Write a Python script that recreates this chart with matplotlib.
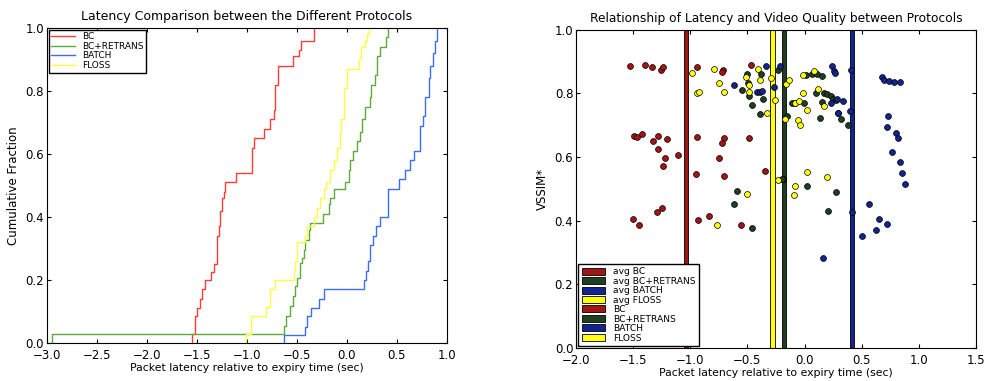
import matplotlib
matplotlib.use("Agg")
import matplotlib.pyplot as plt
from matplotlib.patches import Patch
import numpy as np

# ---- left panel: CDF step coordinates (x where the step rises, level after the rise)
bc_x = [-1.55, -1.517, -1.50, -1.47, -1.45, -1.42, -1.36, -1.33, -1.30, -1.283, -1.27, -1.25,
        -1.23, -1.22, -1.107, -0.95, -0.927, -0.833, -0.767, -0.733, -0.717, -0.693, -0.54,
        -0.483, -0.457, -0.333]
bc_y = [0.03, 0.085, 0.11, 0.14, 0.17, 0.20, 0.225, 0.25, 0.34, 0.37, 0.42, 0.46,
        0.48, 0.51, 0.54, 0.62, 0.65, 0.68, 0.71, 0.74, 0.82, 0.88, 0.91,
        0.93, 0.96, 1.0]

retrans_x = [-2.95, -0.633, -0.607, -0.567, -0.54, -0.517, -0.5, -0.467, -0.45, -0.433, -0.417,
             -0.383, -0.367, -0.24, -0.183, -0.167, -0.133, -0.017, 0.017, 0.033, 0.06, 0.10,
             0.133, 0.15, 0.177, 0.227, 0.243, 0.283, 0.30, 0.333, 0.393, 0.407]
retrans_y = [0.028, 0.053, 0.085, 0.116, 0.148, 0.18, 0.206, 0.254, 0.27, 0.296, 0.328,
             0.36, 0.38, 0.41, 0.44, 0.46, 0.49, 0.51, 0.55, 0.58, 0.61, 0.64,
             0.67, 0.71, 0.75, 0.78, 0.82, 0.85, 0.91, 0.94, 0.97, 1.0]

floss_x = [-1.01, -0.96, -0.81, -0.773, -0.723, -0.533, -0.517, -0.50, -0.417, -0.40, -0.333,
           -0.30, -0.267, -0.233, -0.207, -0.167, -0.133, -0.10, -0.073, -0.057, -0.033, 0.0,
           0.117, 0.143, 0.177, 0.20, 0.217]
floss_y = [0.03, 0.085, 0.115, 0.17, 0.20, 0.23, 0.26, 0.32, 0.34, 0.37, 0.40,
           0.43, 0.46, 0.49, 0.51, 0.55, 0.58, 0.62, 0.67, 0.71, 0.81, 0.87,
           0.90, 0.94, 0.96, 0.98, 1.0]

batch_x = [-0.633, -0.417, -0.40, -0.357, -0.283, -0.227, 0.167, 0.19, 0.21, 0.233, 0.26,
           0.293, 0.333, 0.41, 0.517, 0.577, 0.633, 0.667, 0.727, 0.76, 0.777, 0.817,
           0.833, 0.86, 0.883, 0.90]
batch_y = [0.025, 0.05, 0.085, 0.11, 0.14, 0.17, 0.20, 0.23, 0.26, 0.31, 0.34,
           0.37, 0.40, 0.49, 0.52, 0.55, 0.58, 0.61, 0.69, 0.72, 0.78, 0.84,
           0.88, 0.92, 0.96, 1.0]

# ---- right panel: (latency, VSSIM*) points per protocol and average latency
bc_lat = [-1.528, -1.396, -1.335, -1.256, -1.236, -1.493, -1.469, -1.423, -1.323, -1.280,
          -1.283, -1.218, -1.242, -1.204, -1.105, -0.944, -0.944, -0.950, -0.930, -0.839,
          -1.498, -1.452, -1.288, -1.250, -0.717, -0.720, -0.702, -0.723, -0.746, -0.702,
          -0.466, -0.486, -0.349, -0.556]
bc_q = [0.888, 0.890, 0.884, 0.875, 0.884, 0.666, 0.663, 0.672, 0.652, 0.666,
        0.627, 0.596, 0.572, 0.656, 0.608, 0.884, 0.663, 0.547, 0.403, 0.416,
        0.404, 0.387, 0.429, 0.440, 0.875, 0.867, 0.659, 0.644, 0.597, 0.542,
        0.889, 0.659, 0.556, 0.386]

retrans_lat = [-0.507, -0.498, -0.545, -0.486, -0.460, -0.379, -0.364, -0.387, -0.594, -0.618,
               -0.460, -0.230, -0.151, -0.186, -0.198, -0.113, -0.085, -0.002, 0.009, 0.068,
               0.106, 0.149, 0.097, 0.167, 0.196, 0.228, 0.249, 0.275, 0.155, 0.132,
               0.018, 0.272, 0.207, 0.318, 0.382, 0.289]
retrans_q = [0.860, 0.832, 0.810, 0.793, 0.765, 0.860, 0.782, 0.737, 0.495, 0.454,
             0.376, 0.873, 0.729, 0.531, 0.532, 0.771, 0.771, 0.771, 0.858, 0.860,
             0.861, 0.856, 0.802, 0.800, 0.798, 0.791, 0.783, 0.780, 0.774, 0.722,
             0.509, 0.491, 0.431, 0.719, 0.702, 0.738]

batch_lat = [-0.615, -0.419, -0.390, -0.370, -0.341, -0.268, -0.215, 0.237, 0.257, 0.269,
             0.231, 0.281, 0.333, 0.292, 0.397, 0.406, 0.414, 0.677, 0.697, 0.741,
             0.782, 0.832, 0.727, 0.724, 0.800, 0.814, 0.768, 0.832, 0.849, 0.878,
             0.560, 0.651, 0.499, 0.622, 0.721, 0.161]
batch_q = [0.827, 0.805, 0.805, 0.807, 0.885, 0.820, 0.887, 0.887, 0.872, 0.864,
           0.769, 0.783, 0.776, 0.740, 0.746, 0.873, 0.426, 0.853, 0.842, 0.840,
           0.837, 0.835, 0.729, 0.695, 0.675, 0.659, 0.616, 0.586, 0.551, 0.514,
           0.452, 0.407, 0.353, 0.370, 0.391, 0.283]

floss_lat = [-0.988, -0.938, -0.921, -0.790, -0.752, -0.702, -0.513, -0.484, -0.484, -0.501,
             -0.769, -0.405, -0.391, -0.329, -0.297, -0.256, -0.236, -0.163, -0.134, -0.171,
             -0.084, -0.046, -0.058, -0.037, -0.017, -0.014, 0.021, 0.021, -0.087, -0.096,
             0.085, 0.114, 0.173, 0.193]
floss_q = [0.866, 0.801, 0.806, 0.877, 0.833, 0.804, 0.852, 0.827, 0.805, 0.484,
           0.386, 0.876, 0.843, 0.740, 0.848, 0.780, 0.528, 0.829, 0.843, 0.720,
           0.771, 0.776, 0.717, 0.701, 0.858, 0.803, 0.747, 0.553, 0.510, 0.482,
           0.872, 0.813, 0.761, 0.537]

avg_labels = ["avg BC", "avg BC+RETRANS", "avg BATCH", "avg FLOSS"]
avg_latency = [-1.04, -0.18, 0.415, -0.28]

protocols = ["BC", "BC+RETRANS", "BATCH", "FLOSS"]
cdf_colors = ["#ff3b3b", "#5daa3a", "#3a6ff0", "#ffff40"]
dark_colors = ["#a31515", "#1f3f22", "#13248f", "#ffff10"]


def draw_cdf(ax, xs, ys, color, label):
    ax.step([xs[0]] + list(xs), [0.0] + list(ys), where="post",
            color=color, linewidth=1.0, label=label)


fig = plt.figure(figsize=(9.85, 3.81), dpi=100)
ax1 = fig.add_axes([0.0477, 0.0997, 0.406, 0.827])
ax2 = fig.add_axes([0.5848, 0.0866, 0.406, 0.835])

for xs, ys, c, lab in zip([bc_x, retrans_x, batch_x, floss_x],
                          [bc_y, retrans_y, batch_y, floss_y], cdf_colors, protocols):
    draw_cdf(ax1, xs, ys, c, lab)
ax1.set_xlim(-3.0, 1.0)
ax1.set_ylim(0.0, 1.0)
ax1.set_title("Latency Comparison between the Different Protocols", fontsize=9)
ax1.set_xlabel("Packet latency relative to expiry time (sec)", fontsize=7.8, labelpad=1)
ax1.set_ylabel("Cumulative Fraction", fontsize=8.5)
leg1 = ax1.legend(loc="upper left", fontsize=6.5, handlelength=2.6, labelspacing=0.05,
                  borderpad=0.3, fancybox=False, framealpha=1, borderaxespad=0.2)
leg1.get_frame().set_edgecolor("black")

# right panel
for x, c in zip(avg_latency, dark_colors):
    ax2.axvspan(x - 0.018, x + 0.018, facecolor=c, edgecolor="black", linewidth=0.6, zorder=1)
for lat, q, c in zip([bc_lat, retrans_lat, batch_lat, floss_lat],
                     [bc_q, retrans_q, batch_q, floss_q], dark_colors):
    ax2.scatter(lat, q, s=18, c=c, edgecolors="black", linewidths=0.5, zorder=3)
ax2.set_xlim(-2.0, 1.5)
ax2.set_ylim(0.0, 1.0)
ax2.set_title("Relationship of Latency and Video Quality between Protocols", fontsize=8.8)
ax2.set_xlabel("Packet latency relative to expiry time (sec)", fontsize=7.8, labelpad=1)
ax2.set_ylabel("VSSIM*", fontsize=8.5)
handles = [Patch(facecolor=c, edgecolor="black", linewidth=0.6) for c in dark_colors * 2]
leg2 = ax2.legend(handles, avg_labels + protocols, loc="lower left", fontsize=6.6,
                  handlelength=2.6, handleheight=0.8, labelspacing=0.05, borderpad=0.4,
                  fancybox=False, framealpha=1, borderaxespad=0.2)
leg2.get_frame().set_edgecolor("black")
leg2.set_zorder(5)

for ax in (ax1, ax2):
    ax.tick_params(direction="in", top=True, right=True, labelsize=8.5, length=3, pad=2)
    ax.tick_params(axis="x", pad=4)
ax1.set_xticks(np.arange(-3.0, 1.01, 0.5))
ax2.set_xticks(np.arange(-2.0, 1.51, 0.5))

fig.savefig("out.png", dpi=100)
